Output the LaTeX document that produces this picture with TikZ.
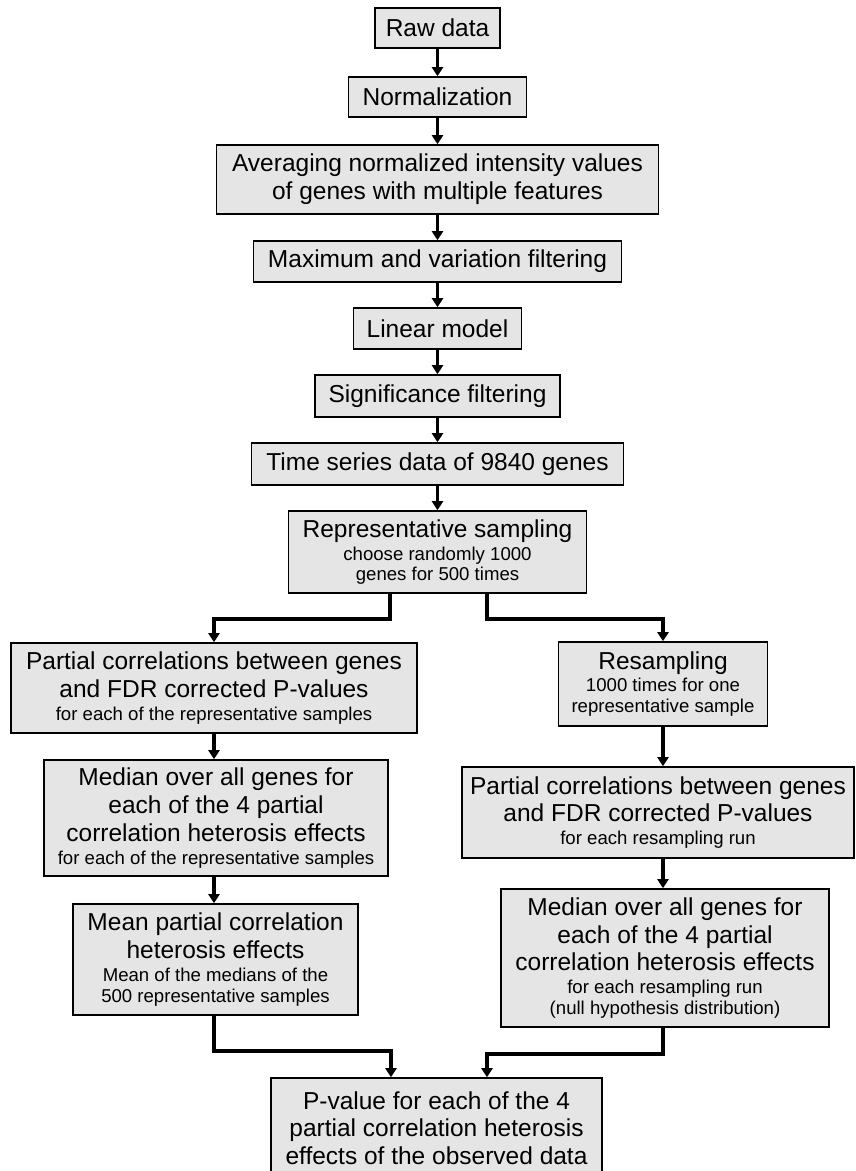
\documentclass[tikz,border=0pt]{standalone}
\usepackage{fontspec}
\setmainfont{Liberation Sans}
\usetikzlibrary{arrows.meta,calc}
\definecolor{boxfill}{gray}{0.9}
\newcommand\smalltxt[1]{{\fontsize{18.6}{21}\selectfont #1}}
\begin{document}
\begin{tikzpicture}[x=1pt,y=-1pt,
  box/.style={draw=black, line width=1.6pt, fill=boxfill, align=center, inner sep=0pt,
    font=\fontsize{24.5}{27.7}\selectfont},
  arr/.style={line width=3.6pt, -{Triangle[width=11pt,length=9pt]}}]
\useasboundingbox (0,0) rectangle (855,1171);

% main column
\node[box, minimum width=125, minimum height=40] (raw) at (437.5,28) {Raw data};
\node[box, minimum width=178, minimum height=40] (norm) at (437.5,97) {Normalization};
\node[box, minimum width=442, minimum height=69] (avg) at (437.5,179.5)
  {Averaging normalized intensity values\\of genes with multiple features};
\node[box, minimum width=368, minimum height=41] (maxf) at (437.5,261.5) {Maximum and variation filtering};
\node[box, minimum width=168, minimum height=41] (lin) at (437.5,328.5) {Linear model};
\node[box, minimum width=245, minimum height=42] (sig) at (437.5,396) {Significance filtering};
\node[box, minimum width=372, minimum height=42] (ts) at (437.5,464) {Time series data of 9840 genes};
\node[box, minimum width=298, minimum height=82] (rep) at (437.5,552)
  {Representative sampling\\[-5pt]\smalltxt{choose randomly 1000}\\[-7.5pt]\smalltxt{genes for 500 times}};

% left column
\node[box, minimum width=406, minimum height=90] (lp) at (214,688)
  {Partial correlations between genes\\and FDR corrected P-values\\[-5pt]\smalltxt{for each of the representative samples}};
\node[box, minimum width=344, minimum height=116] (lm) at (216,818)
  {Median over all genes for\\each of the 4 partial\\correlation heterosis effects\\[-5pt]\smalltxt{for each of the representative samples}};
\node[box, minimum width=285, minimum height=111] (mean) at (215.5,959.5)
  {Mean partial correlation\\heterosis effects\\[-5pt]\smalltxt{Mean of the medians of the}\\[-7pt]\smalltxt{500 representative samples}};

% right column
\node[box, minimum width=209, minimum height=84] (rs) at (663,684)
  {Resampling\\[-5pt]\smalltxt{1000 times for one}\\[-7pt]\smalltxt{representative sample}};
\node[box, minimum width=392, minimum height=91] (rp) at (658,812.5)
  {Partial correlations between genes\\and FDR corrected P-values\\[-5pt]\smalltxt{for each resampling run}};
\node[box, minimum width=328, minimum height=138] (rm) at (665,958)
  {Median over all genes for\\each of the 4 partial\\correlation heterosis effects\\[-5pt]\smalltxt{for each resampling run}\\[-7pt]\smalltxt{(null hypothesis distribution)}};

% final
\node[box, minimum width=331, minimum height=100] (pv) at (436.5,1128)
  {P-value for each of the 4\\partial correlation heterosis\\effects of the observed data};

% connectors
\draw[arr] (raw.south) -- (norm.north);
\draw[arr] (norm.south) -- (avg.north);
\draw[arr] (avg.south) -- (maxf.north);
\draw[arr] (maxf.south) -- (lin.north);
\draw[arr] (lin.south) -- (sig.north);
\draw[arr] (sig.south) -- (ts.north);
\draw[arr] (ts.south) -- (rep.north);
\draw[arr] ([xshift=-47.5pt]rep.south) -- ++(0,25) -| (lp.north);
\draw[arr] ([xshift=49.5pt]rep.south) -- ++(0,25) -| (rs.north);
\draw[arr] (lp.south) -- (lp.south |- lm.north);
\draw[arr] (lm.south -| lp.south) -- (lp.south |- mean.north);
\draw[arr] (rs.south) -- (rs.south |- rp.north);
\draw[arr] (rp.south -| rs.south) -- (rs.south |- rm.north);
\draw[arr] (mean.south -| lp.south) -- ++(0,35) -| ([xshift=-45.5pt]pv.north);
\draw[arr] (rm.south -| rs.south) -- ++(0,26) -| ([xshift=50.5pt]pv.north);
\end{tikzpicture}
\end{document}
